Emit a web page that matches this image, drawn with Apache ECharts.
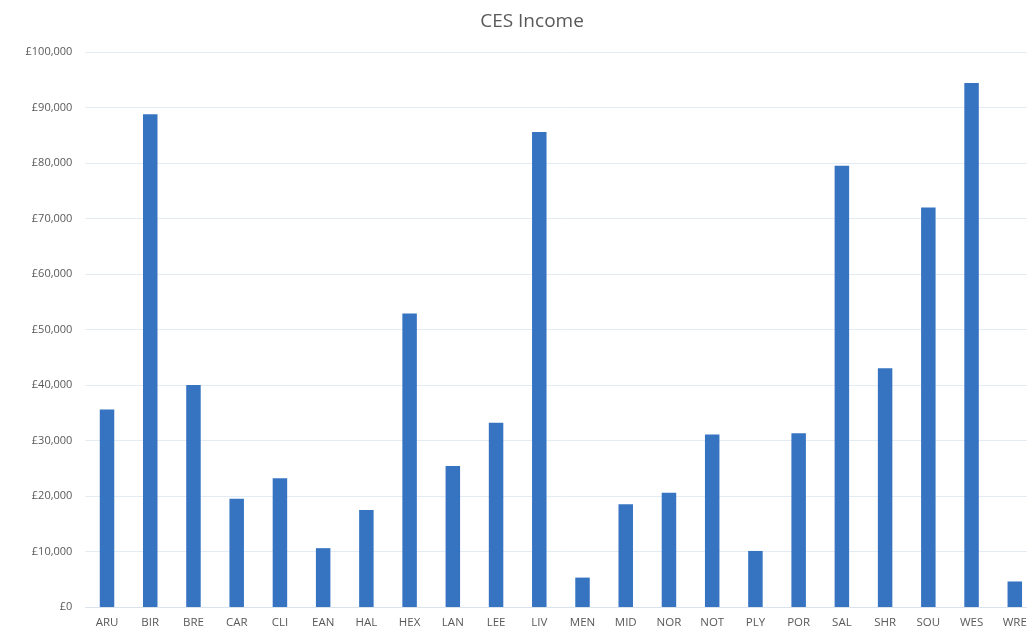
<!DOCTYPE html>
<html>
<head>
<meta charset="utf-8">
<script src="https://cdn.jsdelivr.net/npm/echarts@6/dist/echarts.min.js"></script>
<style>
html,body{margin:0;padding:0;background:#fff;overflow:hidden;width:1027px;height:637px;}
#chart{width:1040px;height:637px;}
</style>
</head>
<body>
<div id="chart"></div>
<script>
const categories = ['ARU','BIR','BRE','CAR','CLI','EAN','HAL','HEX','LAN','LEE','LIV','MEN','MID','NOR','NOT','PLY','POR','SAL','SHR','SOU','WES','WRE'];
const income = [35600, 88800, 40000, 19500, 23200, 10600, 17500, 52900, 25400, 33200, 85600, 5300, 18500, 20600, 31100, 10100, 31300, 79500, 43000, 72000, 94400, 4600];
const titleText = 'CES Income';

const chart = echarts.init(document.getElementById('chart'), null, {renderer: 'canvas'});
chart.setOption({
  animation: false,
  backgroundColor: '#ffffff',
  title: {
    text: titleText,
    left: 527, top: 7, textAlign: 'center',
    textStyle: {fontFamily: 'Open Sans', fontSize: 19, fontWeight: 'normal', color: '#595959'}
  },
  grid: {left: 85.4, top: 52, width: 951, height: 555, containLabel: false},
  xAxis: {
    type: 'category',
    data: categories,
    axisLine: {show: true, lineStyle: {color: '#d9e3ee', width: 1}},
    axisTick: {show: false},
    axisLabel: {color: '#595959', fontFamily: 'Open Sans', fontSize: 11.5, margin: 10, interval: 0}
  },
  yAxis: {
    type: 'value',
    min: 0, max: 100000, interval: 10000,
    axisLine: {show: false},
    axisTick: {show: false},
    splitLine: {lineStyle: {color: '#e3ecf5', width: 1}},
    axisLabel: {
      color: '#595959', fontFamily: 'Open Sans', fontSize: 11, margin: 13,
      formatter: v => '£' + v.toLocaleString('en-GB')
    }
  },
  series: [{
    type: 'bar',
    data: income,
    barWidth: 14.5,
    itemStyle: {color: '#3674c2'}
  }]
});
</script>
</body>
</html>
